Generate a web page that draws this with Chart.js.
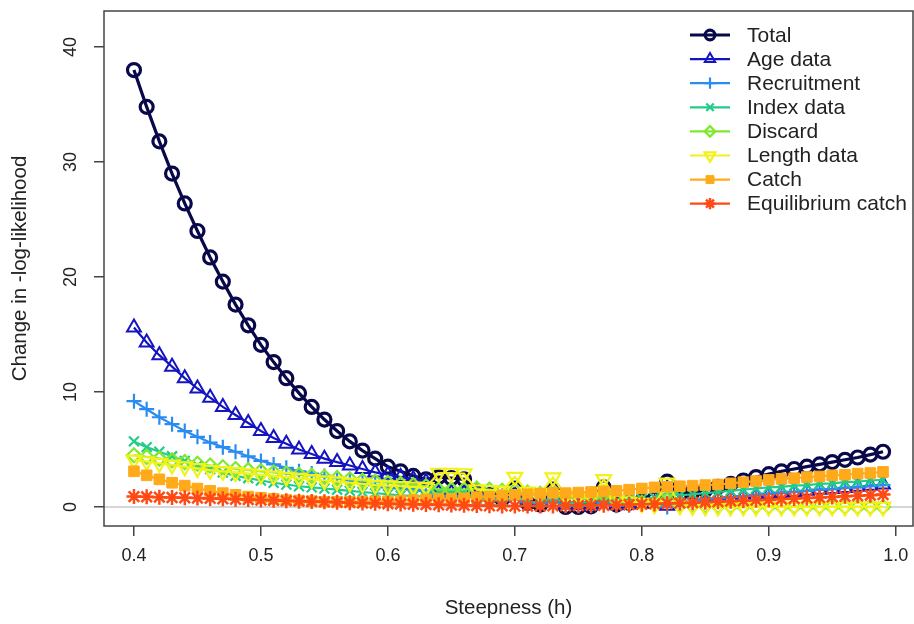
<!DOCTYPE html>
<html><head><meta charset="utf-8">
<script src="https://cdn.jsdelivr.net/npm/chart.js@4/dist/chart.umd.min.js"></script>
<style>html,body{margin:0;padding:0;background:#fff}</style>
</head><body>
<canvas id="c" width="914" height="624"></canvas>
<script>
const steepness = [0.40,0.41,0.42,0.43,0.44,0.45,0.46,0.47,0.48,0.49,
  0.50,0.51,0.52,0.53,0.54,0.55,0.56,0.57,0.58,0.59,
  0.60,0.61,0.62,0.63,0.64,0.65,0.66,0.67,0.68,0.69,
  0.70,0.71,0.72,0.73,0.74,0.75,0.76,0.77,0.78,0.79,
  0.80,0.81,0.82,0.83,0.84,0.85,0.86,0.87,0.88,0.89,
  0.90,0.91,0.92,0.93,0.94,0.95,0.96,0.97,0.98,0.99];
const total = [38.0,34.8,31.8,29.0,26.4,24.0,21.7,19.6,17.6,15.8,
  14.1,12.6,11.2,9.9,8.7,7.6,6.6,5.7,4.9,4.2,
  3.5,3.1,2.7,2.4,2.6,2.5,2.4,1.3,1.0,0.7,
  1.6,0.35,0.2,1.5,0.0,0.0,0.05,1.7,0.2,0.35,
  0.5,0.7,2.2,1.1,1.3,1.5,1.75,2.0,2.3,2.6,
  2.85,3.1,3.3,3.5,3.7,3.9,4.1,4.3,4.55,4.8];
const ageData = [15.6,14.3,13.2,12.2,11.2,10.3,9.5,8.7,8.0,7.3,
  6.6,6.0,5.5,5.0,4.6,4.2,3.9,3.6,3.3,3.0,
  2.8,2.6,2.4,2.2,1.2,1.2,1.2,1.2,1.0,0.8,
  1.0,0.5,0.4,0.9,0.2,0.15,0.15,0.9,0.15,0.2,
  0.25,0.3,0.1,0.45,0.5,0.6,0.7,0.8,0.9,1.0,
  1.1,1.2,1.3,1.4,1.5,1.55,1.65,1.75,1.85,1.95];
const recruitment = [9.2,8.5,7.8,7.2,6.6,6.1,5.6,5.2,4.8,4.4,
  4.0,3.7,3.4,3.1,2.9,2.7,2.5,2.3,2.1,1.9,
  1.7,1.6,1.5,1.4,0.9,0.9,0.9,1.0,0.8,0.6,
  0.7,0.4,0.3,0.5,0.15,0.1,0.1,0.4,0.1,0.15,
  0.2,0.3,0.0,0.45,0.55,0.65,0.75,0.85,0.95,1.05,
  1.15,1.25,1.3,1.4,1.5,1.55,1.65,1.7,1.8,1.9];
const indexData = [5.7,5.2,4.8,4.4,4.0,3.6,3.3,3.0,2.7,2.5,
  2.3,2.1,1.95,1.8,1.7,1.6,1.5,1.4,1.3,1.2,
  1.1,1.0,0.95,0.9,1.3,1.3,1.3,0.7,0.6,0.55,
  0.9,0.45,0.4,0.8,0.35,0.35,0.4,0.9,0.5,0.6,
  0.7,0.8,1.2,1.0,1.1,1.2,1.3,1.4,1.5,1.6,
  1.7,1.75,1.85,1.9,2.0,2.05,2.15,2.2,2.3,2.35];
const discard = [4.5,4.35,4.2,4.05,3.9,3.75,3.6,3.45,3.3,3.2,
  3.1,3.0,2.9,2.8,2.7,2.6,2.5,2.4,2.3,2.2,
  2.1,2.0,1.9,1.8,1.5,1.5,1.5,1.6,1.5,1.4,
  1.4,1.25,1.15,1.3,0.95,0.85,0.75,1.1,0.55,0.45,
  0.35,0.25,1.2,0.15,0.12,0.1,0.08,0.07,0.06,0.05,
  0.04,0.03,0.03,0.02,0.02,0.01,0.01,0.0,0.0,0.0];
const lengthData = [4.1,3.95,3.8,3.65,3.5,3.35,3.2,3.1,3.0,2.9,
  2.8,2.7,2.6,2.5,2.4,2.3,2.2,2.1,2.0,1.9,
  1.85,1.8,1.75,1.7,2.95,2.95,2.9,1.5,1.45,1.4,
  2.6,1.3,1.2,2.55,1.0,0.9,0.8,2.4,0.6,0.45,
  0.3,0.2,2.1,0.1,0.05,0.02,0.0,0.0,0.0,0.0,
  0.0,0.0,0.0,0.0,0.0,0.0,0.0,0.0,0.0,0.0];
const catchData = [3.1,2.75,2.4,2.1,1.85,1.6,1.4,1.2,1.05,0.9,
  0.8,0.7,0.6,0.55,0.5,0.45,0.45,0.45,0.45,0.5,
  0.5,0.55,0.6,0.65,0.7,0.7,0.75,0.85,0.9,1.0,
  1.05,1.1,1.15,1.2,1.2,1.25,1.3,1.35,1.4,1.5,
  1.6,1.7,1.75,1.8,1.85,1.9,1.95,2.05,2.15,2.25,
  2.35,2.45,2.5,2.6,2.65,2.75,2.8,2.9,2.95,3.05];
const equilibriumCatch = [0.9,0.88,0.85,0.82,0.8,0.77,0.74,0.7,0.67,0.64,
  0.6,0.57,0.53,0.5,0.47,0.44,0.4,0.37,0.34,0.31,
  0.28,0.25,0.23,0.2,0.18,0.16,0.14,0.12,0.1,0.09,
  0.08,0.08,0.08,0.09,0.1,0.11,0.13,0.15,0.17,0.2,
  0.23,0.26,0.3,0.33,0.37,0.41,0.45,0.5,0.54,0.59,
  0.63,0.68,0.73,0.77,0.82,0.87,0.92,0.97,1.02,1.07];
const seriesNames = ['Total','Age data','Recruitment','Index data','Discard','Length data','Catch','Equilibrium catch'];
const seriesValues = [total, ageData, recruitment, indexData, discard, lengthData, catchData, equilibriumCatch];
const xTicks = [0.4,0.5,0.6,0.7,0.8,0.9,1.0];
const yTicks = [0,10,20,30,40];

const FONT = '"Liberation Sans", Arial, sans-serif';
const styles = [
  {color:'#08084A', style:'circle',   rot:0,   r:6.5, bw:3.2, lw:3.2, fill:false},
  {color:'#1414C0', style:'triangle', rot:0,   r:8,   bw:2,   lw:2.2, fill:false},
  {color:'#2A8CF0', style:'cross',    rot:0,   r:7.5, bw:2.2, lw:2.2, fill:false},
  {color:'#22CC88', style:'crossRot', rot:0,   r:7,   bw:2.2, lw:2.2, fill:false},
  {color:'#80E830', style:'rectRot',  rot:0,   r:7,   bw:2.2, lw:2.2, fill:false},
  {color:'#F2F21A', style:'triangle', rot:180, r:8.5, bw:2.2, lw:2.2, fill:false},
  {color:'#FFAA1A', style:'rect',     rot:0,   r:7.5, bw:1,   lw:2.2, fill:true},
  {color:'#FF4A14', style:'star',     rot:0,   r:7.5, bw:2.5, lw:2.2, fill:false}
];

const datasets = seriesNames.map((name, k) => {
  const s = styles[k];
  return {
    label: name,
    data: steepness.map((h, i) => ({x: h, y: seriesValues[k][i]})),
    borderColor: s.color,
    backgroundColor: s.color,
    borderWidth: s.lw,
    pointStyle: s.style,
    pointRotation: s.rot,
    pointRadius: s.r,
    pointBorderWidth: s.bw,
    pointBorderColor: s.color,
    pointBackgroundColor: s.fill ? s.color : 'rgba(0,0,0,0)',
    tension: 0,
    order: seriesNames.length - k
  };
});

const framePlugin = {
  id: 'frame',
  beforeDatasetsDraw(chart) {
    const {ctx, chartArea} = chart;
    const y0 = chart.scales.y.getPixelForValue(0);
    ctx.save();
    ctx.strokeStyle = '#c8c8c8';
    ctx.lineWidth = 1.5;
    ctx.beginPath();
    ctx.moveTo(chartArea.left, y0);
    ctx.lineTo(chartArea.right, y0);
    ctx.stroke();
    ctx.restore();
  },
  afterDraw(chart) {
    const {ctx, chartArea} = chart;
    ctx.save();
    ctx.strokeStyle = '#444';
    ctx.lineWidth = 1.5;
    ctx.strokeRect(chartArea.left, chartArea.top, chartArea.right - chartArea.left, chartArea.bottom - chartArea.top);
    // legend
    const lx0 = 690, lx1 = 730, tx = 747, ty0 = 35, dy = 24.1;
    ctx.font = '21px ' + FONT;
    ctx.textBaseline = 'middle';
    ctx.textAlign = 'left';
    seriesNames.forEach((name, k) => {
      const s = styles[k];
      const y = ty0 + k * dy;
      ctx.strokeStyle = s.color;
      ctx.lineWidth = s.lw;
      ctx.beginPath();
      ctx.moveTo(lx0, y); ctx.lineTo(lx1, y); ctx.stroke();
      ctx.fillStyle = s.fill ? s.color : 'rgba(0,0,0,0)';
      ctx.strokeStyle = s.color;
      ctx.lineWidth = s.bw;
      Chart.helpers.drawPoint(ctx, {pointStyle: s.style, rotation: s.rot, radius: s.r * 0.75, borderWidth: s.bw}, (lx0 + lx1) / 2, y);
      ctx.fillStyle = '#222';
      ctx.fillText(name, tx, y + 1);
    });
    ctx.restore();
  }
};

new Chart(document.getElementById('c'), {
  type: 'line',
  data: {datasets},
  plugins: [framePlugin],
  options: {
    responsive: false,
    animation: false,
    layout: {autoPadding: false, padding: {top: 11, right: 1, left: 0, bottom: 0}},
    plugins: {legend: {display: false}, tooltip: {enabled: false}},
    scales: {
      x: {
        type: 'linear', min: 0.3764, max: 1.0136,
        afterBuildTicks: s => { s.ticks = xTicks.map(v => ({value: v})); },
        afterFit: s => { s.height = 98; s.paddingLeft = 0; s.paddingRight = 0; },
        ticks: {callback: v => Number(v).toFixed(1), font: {family: FONT, size: 18}, color: '#222', padding: 9, maxRotation: 0, autoSkip: false},
        grid: {drawOnChartArea: false, drawTicks: true, tickLength: 10, color: '#444', lineWidth: 1.5},
        border: {display: false},
        title: {display: true, text: 'Steepness (h)', font: {family: FONT, size: 20.5}, color: '#222', padding: {top: 0, bottom: 3.7}}
      },
      y: {
        type: 'linear', min: -1.66, max: 43.14,
        afterBuildTicks: s => { s.ticks = yTicks.map(v => ({value: v})); },
        afterFit: s => { s.width = 104; s.paddingTop = 0; s.paddingBottom = 0; },
        ticks: {minRotation: 90, maxRotation: 90, crossAlign: 'center', padding: 13, font: {family: FONT, size: 18}, color: '#222'},
        grid: {drawOnChartArea: false, drawTicks: true, tickLength: 10, color: '#444', lineWidth: 1.5},
        border: {display: false},
        title: {display: true, text: 'Change in -log-likelihood', font: {family: FONT, size: 20.5}, color: '#222', padding: {top: 7.7, bottom: 0}}
      }
    }
  }
});
</script>
</body></html>
